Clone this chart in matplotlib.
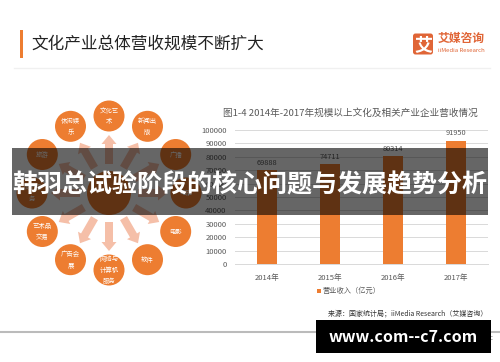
import numpy as np
import matplotlib
matplotlib.use("Agg")
import matplotlib.pyplot as plt
from matplotlib.patches import Circle, Rectangle, FancyArrow, FancyBboxPatch

plt.rcParams['font.family'] = ['Noto Sans CJK SC', 'DejaVu Sans']

# data
years = ['2014年', '2015年', '2016年', '2017年']
revenue = [69888, 74711, 80314, 91950]
y_ticks = [0, 10000, 20000, 30000, 40000, 50000, 60000, 70000, 80000, 90000, 100000]
sectors = ['文化艺\n术', '新闻出\n版', '广播', '电视', '电影', '软件',
           '网络与\n计算机\n服务', '广告会\n展', '艺术品\n交易', '设计服\n务', '旅游', '休闲娱\n乐']

ORANGE = '#ED7D31'
GREY = '#595959'

fig = plt.figure(figsize=(5.0, 3.62), dpi=100)
fig.patch.set_facecolor('white')

# background layer in pixel coords
bg = fig.add_axes([0, 0, 1, 1], zorder=0)
bg.set_xlim(0, 500)
bg.set_ylim(362, 0)
bg.axis('off')

# page title
bg.add_patch(Rectangle((19.5, 30), 3.5, 28, color=ORANGE, lw=0))
bg.text(31, 44, '文化产业总体营收规模不断扩大', fontsize=12, color='#222222', va='center', ha='left')
bg.plot([14, 490], [68, 68], color='#f0f0f0', lw=1)

# logo
bg.add_patch(FancyBboxPatch((413, 33.5), 20, 21, boxstyle='round,pad=0,rounding_size=2.5', color='#E06536', lw=0))
bg.text(423, 44.5, '艾', fontsize=13, color='white', ha='center', va='center', fontweight='bold')
bg.text(438, 38, '艾媒咨询', fontsize=8.5, color='#E06536', ha='left', va='center', fontweight='bold')
bg.text(438.5, 50.5, 'iiMedia Research', fontsize=4.3, color='#E06536', ha='left', va='center')

# radial diagram
cx, cy = 109, 193
n = len(sectors)
angles = np.deg2rad(90 - 360.0 / n * np.arange(n))
for a in angles:
    dx, dy = np.cos(a), -np.sin(a)
    r0, r1 = 29, 58
    bg.add_patch(FancyArrow(cx + r0 * dx, cy + r0 * dy, (r1 - r0) * dx, (r1 - r0) * dy,
                            width=8, head_width=15, head_length=9, length_includes_head=True,
                            color='#F5BFA8', lw=0))
bg.add_patch(Circle((cx, cy), 22, color=ORANGE, lw=0))
for a, lab in zip(angles, sectors):
    px, py = cx + 77 * np.cos(a), cy - 77 * np.sin(a)
    bg.add_patch(Circle((px, py), 15.5, color=ORANGE, lw=0))
    bg.text(px, py, lab, fontsize=4.6, color='white', ha='center', va='center', linespacing=1.5)

# chart title, legend, source
bg.text(350, 113, '图1-4 2014年-2017年规模以上文化及相关产业企业营收情况', fontsize=6.9,
        color=GREY, ha='center', va='center')
bg.add_patch(Rectangle((316.5, 288.5), 4, 4, color=ORANGE, lw=0))
bg.text(323, 290.5, '营业收入（亿元）', fontsize=5.2, color=GREY, ha='left', va='center')
bg.text(487, 313, '来源：国家统计局；iiMedia Research（艾媒咨询）', fontsize=5, color='#333333',
        ha='right', va='center')
bg.plot([0, 500], [332, 332], color='#bbbbbb', lw=1.5)
bg.text(493, 338, '© http://www.iimedia.cn  2018 iiMedia Research Inc', fontsize=4.8, color='#888888',
        ha='right', va='center')

# bar chart
ax = fig.add_axes([235 / 500, 1 - 264 / 362, 253 / 500, 134 / 362], zorder=1)
ax.patch.set_alpha(0)
x = np.arange(len(years))
ax.bar(x, revenue, width=0.32, color=ORANGE, zorder=2)
for xi, v in zip(x, revenue):
    ax.text(xi, v + 2500, str(v), fontsize=5.3, color=GREY, ha='center', va='bottom')
ax.set_xlim(-0.5, 3.5)
ax.set_ylim(0, 100000)
ax.set_yticks(y_ticks)
ax.set_yticklabels([str(t) for t in y_ticks])
ax.set_xticks(x)
ax.set_xticklabels(years)
ax.tick_params(axis='both', length=0, labelsize=5.5, labelcolor=GREY)
ax.tick_params(axis='y', pad=6)
ax.tick_params(axis='x', pad=7)
ax.grid(axis='y', color='#d9d9d9', lw=0.7, zorder=0)
for s in ['top', 'right', 'left']:
    ax.spines[s].set_visible(False)
ax.spines['bottom'].set_color('#d9d9d9')
ax.spines['bottom'].set_linewidth(0.7)

# overlay banner and watermark
top = fig.add_axes([0, 0, 1, 1], zorder=2)
top.set_xlim(0, 500)
top.set_ylim(362, 0)
top.axis('off')
top.add_patch(Rectangle((12, 148), 476, 67, color='black', alpha=0.6, lw=0))
top.text(250, 185, '韩羽总试验阶段的核心问题与发展趋势分析', fontsize=18, color='white',
         fontweight='bold', ha='center', va='center')
top.add_patch(Rectangle((316, 320), 175, 33, color='black', lw=0))
top.text(403.5, 337, 'www.com--c7.com', fontsize=11.5, color='white', fontweight='bold',
         ha='center', va='center')

fig.savefig('out.png', dpi=100)
